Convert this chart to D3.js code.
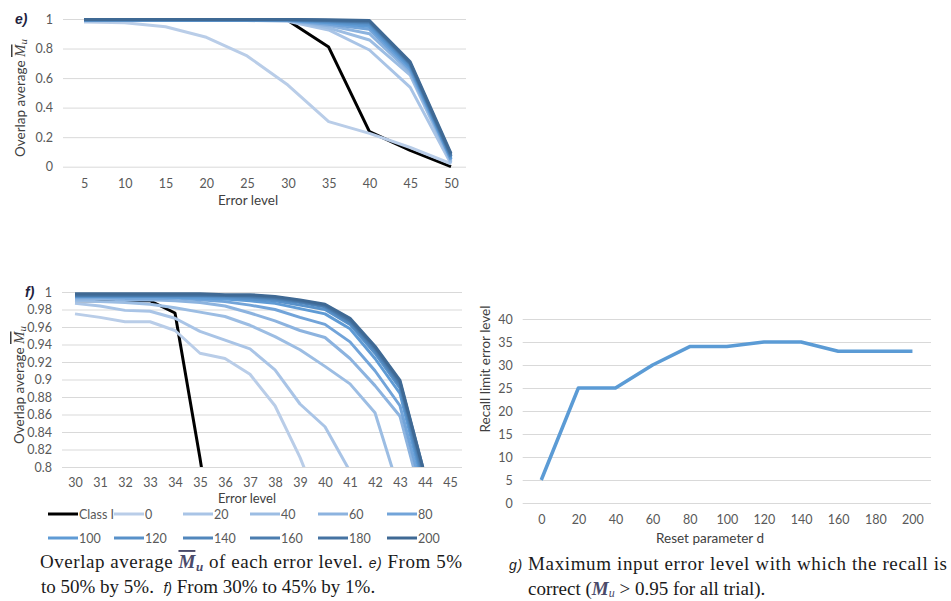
<!DOCTYPE html>
<html>
<head>
<meta charset="utf-8">
<script src="https://cdnjs.cloudflare.com/ajax/libs/d3/7.8.5/d3.min.js"></script>
<style>
  body { margin: 0; background: #fff; }
</style>
</head>
<body>
<div id="fig"></div>
<script>
// data
var seriesNames = ["Class I", "0", "20", "40", "60", "80", "100", "120", "140", "160", "180", "200"];
var seriesColors = ["#000000", "#b9cde8", "#a9c4e6", "#9cbde3", "#8cb3df", "#72a4d9", "#5f9bd5",
                    "#5891c9", "#5187bc", "#4b7daf", "#4573a2", "#3f6994"];

// panel e : error level 5..50
var errE = [5, 10, 15, 20, 25, 30, 35, 40, 45, 50];
var classI_e = [0.995, 0.995, 0.995, 0.995, 0.995, 0.99, 0.81, 0.237, 0.11, 0.0];
var d0_e   = [0.98, 0.975, 0.948, 0.876, 0.75, 0.553, 0.305, 0.226, 0.13, 0.02];
var d20_e  = [0.985, 0.99, 0.99, 0.99, 0.99, 0.985, 0.926, 0.79, 0.537, 0.02];
var d40_e  = [0.99, 0.99, 0.99, 0.99, 0.99, 0.99, 0.94, 0.858, 0.62, 0.03];
var d60_e  = [0.99, 0.99, 0.99, 0.99, 0.99, 0.99, 0.955, 0.90, 0.64, 0.04];
var d80_e  = [0.99, 0.99, 0.99, 0.99, 0.99, 0.99, 0.965, 0.93, 0.655, 0.05];
var d100_e = [0.993, 0.993, 0.993, 0.993, 0.993, 0.993, 0.975, 0.95, 0.67, 0.05];
var d120_e = [0.993, 0.993, 0.993, 0.993, 0.993, 0.993, 0.98, 0.965, 0.68, 0.06];
var d140_e = [0.995, 0.995, 0.995, 0.995, 0.995, 0.995, 0.985, 0.975, 0.69, 0.07];
var d160_e = [0.995, 0.995, 0.995, 0.995, 0.995, 0.995, 0.99, 0.98, 0.70, 0.07];
var d180_e = [0.996, 0.996, 0.996, 0.996, 0.996, 0.996, 0.99, 0.985, 0.70, 0.08];
var d200_e = [0.997, 0.997, 0.997, 0.997, 0.997, 0.997, 0.995, 0.99, 0.71, 0.09];

// panel f : error level 30..45
var errF = [30, 31, 32, 33, 34, 35, 36, 37, 38, 39, 40, 41, 42, 43, 44, 45];
var classI_f = [0.99, 0.99, 0.99, 0.99, 0.976, 0.81, 0.63, 0.52, 0.41, 0.31, 0.237, 0.2, 0.17, 0.14, 0.11, 0.08];
var d0_f   = [0.975, 0.971, 0.966, 0.966, 0.956, 0.930, 0.924, 0.906, 0.870, 0.811, 0.74, 0.65, 0.55, 0.45, 0.35, 0.3];
var d20_f  = [0.987, 0.984, 0.979, 0.978, 0.970, 0.955, 0.945, 0.935, 0.911, 0.872, 0.846, 0.795, 0.72, 0.65, 0.58, 0.54];
var d40_f  = [0.990, 0.989, 0.988, 0.986, 0.982, 0.977, 0.972, 0.962, 0.949, 0.934, 0.915, 0.895, 0.862, 0.77, 0.68, 0.62];
var d60_f  = [0.992, 0.992, 0.991, 0.991, 0.990, 0.988, 0.984, 0.976, 0.967, 0.956, 0.948, 0.924, 0.893, 0.858, 0.75, 0.64];
var d80_f  = [0.994, 0.994, 0.993, 0.993, 0.993, 0.991, 0.989, 0.985, 0.980, 0.971, 0.963, 0.943, 0.910, 0.870, 0.76, 0.66];
var d100_f = [0.995, 0.995, 0.995, 0.995, 0.994, 0.993, 0.992, 0.990, 0.987, 0.981, 0.975, 0.958, 0.924, 0.884, 0.77, 0.67];
var d120_f = [0.995, 0.995, 0.995, 0.995, 0.995, 0.995, 0.994, 0.992, 0.990, 0.985, 0.980, 0.963, 0.930, 0.890, 0.775, 0.68];
var d140_f = [0.996, 0.996, 0.996, 0.996, 0.996, 0.996, 0.995, 0.994, 0.992, 0.988, 0.983, 0.965, 0.933, 0.893, 0.78, 0.69];
var d160_f = [0.996, 0.996, 0.996, 0.996, 0.996, 0.996, 0.996, 0.995, 0.993, 0.989, 0.984, 0.967, 0.935, 0.895, 0.785, 0.70];
var d180_f = [0.997, 0.997, 0.997, 0.997, 0.997, 0.997, 0.996, 0.996, 0.994, 0.990, 0.985, 0.968, 0.937, 0.897, 0.79, 0.70];
var d200_f = [0.998, 0.998, 0.998, 0.998, 0.998, 0.998, 0.997, 0.997, 0.995, 0.991, 0.986, 0.970, 0.938, 0.899, 0.79, 0.71];

// panel g : recall limit vs reset parameter d
var resetD = [0, 20, 40, 60, 80, 100, 120, 140, 160, 180, 200];
var recallLimit = [5, 25, 25, 30, 34, 34, 35, 35, 33, 33, 33];

var seriesE = [classI_e, d0_e, d20_e, d40_e, d60_e, d80_e, d100_e, d120_e, d140_e, d160_e, d180_e, d200_e];
var seriesF = [classI_f, d0_f, d20_f, d40_f, d60_f, d80_f, d100_f, d120_f, d140_f, d160_f, d180_f, d200_f];

var width = 951, height = 601;
var gray = "#595959";
var serif = "Liberation Serif";
var sans = "Lato";

var svg = d3.select("#fig")
    .append("svg")
    .attr("width", width)
    .attr("height", height)
    .attr("font-family", sans);

// helper: horizontal gridlines + y labels
function yGrid(g, y, x0, x1, ticks, fmt) {
    g.append("g")
        .attr("transform", "translate(" + x0 + ",0)")
        .call(d3.axisLeft(y).tickValues(ticks).tickSize(-(x1 - x0)).tickPadding(10).tickFormat(fmt))
        .call(function(a) {
            a.select(".domain").remove();
            a.selectAll("line").attr("stroke", "#d9d9d9").attr("stroke-width", 1);
            a.selectAll("text").attr("fill", gray).attr("font-size", "12.5px").attr("font-family", sans);
        });
}
function xLabels(g, x, yPos, fmt) {
    g.append("g")
        .attr("transform", "translate(0," + yPos + ")")
        .call(d3.axisBottom(x).tickSize(0).tickPadding(0).tickFormat(fmt))
        .call(function(a) {
            a.select(".domain").remove();
            a.selectAll("text").attr("fill", gray).attr("font-size", "12.5px").attr("font-family", sans)
                .attr("dy", "0.35em");
        });
}
// rotated y title with overlined M_u
function yTitleMu(g, x, y) {
    var t = g.append("text")
        .attr("transform", "translate(" + x + "," + y + ") rotate(-90)")
        .attr("text-anchor", "middle")
        .attr("dominant-baseline", "central")
        .attr("font-size", "13.5px")
        .attr("fill", "#404040");
    t.append("tspan").text("Overlap average ");
    t.append("tspan").text("M")
        .attr("font-family", serif)
        .attr("font-style", "italic")
        .attr("font-size", "15px")
        .style("text-decoration", "overline");
    t.append("tspan").text("u")
        .attr("font-family", serif)
        .attr("font-style", "italic")
        .attr("font-size", "11px")
        .attr("dy", "3");
}

//
// Panel e
//
var xE = d3.scalePoint().domain(errE).range([84, 451]);
var yE = d3.scaleLinear().domain([0, 1]).range([166.7, 19]);
var g_e = svg.append("g");
yGrid(g_e, yE, 63, 466, [0, 0.2, 0.4, 0.6, 0.8, 1], function(d){ return d === 0 || d === 1 ? d : d.toFixed(1); });
xLabels(g_e, xE, 184, function(d){ return d; });

var lineE = d3.line()
    .x(function(d, i){ return xE(errE[i]); })
    .y(function(d){ return yE(d); });
g_e.selectAll("path.serie")
    .data(seriesE)
    .enter()
    .append("path")
    .attr("class", "serie")
    .attr("d", lineE)
    .attr("fill", "none")
    .attr("stroke", function(d, i){ return seriesColors[i]; })
    .attr("stroke-width", 3)
    .attr("stroke-linejoin", "round");

g_e.append("text")
    .text("Error level")
    .attr("x", 248)
    .attr("y", 200)
    .attr("text-anchor", "middle")
    .attr("dominant-baseline", "central")
    .attr("font-size", "13.5px")
    .attr("fill", "#404040");
yTitleMu(g_e, 20, 98);
g_e.append("text")
    .text("e)")
    .attr("x", 15)
    .attr("y", 19)
    .attr("dominant-baseline", "central")
    .attr("font-family", "Liberation Sans")
    .attr("font-style", "italic")
    .attr("font-weight", "bold")
    .attr("font-size", "14px")
    .attr("fill", "#1f1f3f");

//
// Panel f
//
var xF = d3.scalePoint().domain(errF).range([75, 450]);
var yF = d3.scaleLinear().domain([0.8, 1]).range([467, 292]);
var g_f = svg.append("g");
var ticksF = [0.8, 0.82, 0.84, 0.86, 0.88, 0.9, 0.92, 0.94, 0.96, 0.98, 1];
yGrid(g_f, yF, 62, 462, ticksF, function(d){ return d === 1 ? "1" : d3.format("")(+d.toFixed(2)); });
xLabels(g_f, xF, 483, function(d){ return d; });

svg.append("clipPath")
    .attr("id", "clipF")
    .append("rect")
    .attr("x", 62)
    .attr("y", 280)
    .attr("width", 400)
    .attr("height", yF(0.8) - 280);

var lineF = d3.line()
    .x(function(d, i){ return xF(errF[i]); })
    .y(function(d){ return yF(d); });
g_f.append("g")
    .attr("clip-path", "url(#clipF)")
    .selectAll("path.serie")
    .data(seriesF)
    .enter()
    .append("path")
    .attr("class", "serie")
    .attr("d", lineF)
    .attr("fill", "none")
    .attr("stroke", function(d, i){ return seriesColors[i]; })
    .attr("stroke-width", 3)
    .attr("stroke-linejoin", "round");

g_f.append("text")
    .text("Error level")
    .attr("x", 247)
    .attr("y", 498)
    .attr("text-anchor", "middle")
    .attr("dominant-baseline", "central")
    .attr("font-size", "13px")
    .attr("fill", "#404040");
yTitleMu(g_f, 19, 385);
g_f.append("text")
    .text("f)")
    .attr("x", 25)
    .attr("y", 292)
    .attr("dominant-baseline", "central")
    .attr("font-family", "Liberation Sans")
    .attr("font-style", "italic")
    .attr("font-weight", "bold")
    .attr("font-size", "14px")
    .attr("fill", "#1f1f3f");

// legend
var legCols = [48, 114, 183, 250, 318, 387];
var legend = g_f.selectAll("g.leg")
    .data(seriesNames)
    .enter()
    .append("g")
    .attr("class", "leg")
    .attr("transform", function(d, i){
        return "translate(" + legCols[i % 6] + "," + (i < 6 ? 514 : 538) + ")"; });
legend.append("line")
    .attr("x1", 0).attr("x2", 30)
    .attr("y1", 0).attr("y2", 0)
    .attr("stroke", function(d, i){ return seriesColors[i]; })
    .attr("stroke-width", 3);
legend.append("text")
    .text(function(d){ return d; })
    .attr("x", 31)
    .attr("y", 0)
    .attr("dominant-baseline", "central")
    .attr("font-size", "12.5px")
    .attr("fill", gray);

//
// Panel g
//
var xG = d3.scaleBand().domain(resetD).range([522.7, 931]);
var yG = d3.scaleLinear().domain([0, 40]).range([503, 319]);
var g_g = svg.append("g");
yGrid(g_g, yG, 522.7, 931, [0, 5, 10, 15, 20, 25, 30, 35, 40], function(d){ return d; });
xLabels(g_g, d3.scalePoint().domain(resetD).range([xG(0) + xG.bandwidth() / 2, xG(200) + xG.bandwidth() / 2]), 520, function(d){ return d; });

g_g.append("path")
    .datum(recallLimit)
    .attr("d", d3.line()
        .x(function(d, i){ return xG(resetD[i]) + xG.bandwidth() / 2; })
        .y(function(d){ return yG(d); }))
    .attr("fill", "none")
    .attr("stroke", "#5b9bd5")
    .attr("stroke-width", 3.5)
    .attr("stroke-linejoin", "round");

g_g.append("text")
    .text("Reset parameter d")
    .attr("x", 710)
    .attr("y", 538)
    .attr("text-anchor", "middle")
    .attr("dominant-baseline", "central")
    .attr("font-size", "13.5px")
    .attr("fill", "#404040");
g_g.append("text")
    .text("Recall limit error level")
    .attr("transform", "translate(485,369) rotate(-90)")
    .attr("text-anchor", "middle")
    .attr("dominant-baseline", "central")
    .attr("font-size", "13.5px")
    .attr("fill", "#404040");

//
// captions
//
var cap1 = svg.append("text")
    .attr("x", 40)
    .attr("y", 568)
    .attr("textLength", 422)
    .attr("lengthAdjust", "spacing")
    .attr("font-family", serif)
    .attr("font-size", "19px")
    .attr("fill", "#1a1a1a");
cap1.append("tspan").text("Overlap average ");
cap1.append("tspan").text("M")
    .attr("font-style", "italic")
    .attr("font-weight", "bold")
    .attr("fill", "#4a4a6a")
    .style("text-decoration", "overline");
cap1.append("tspan").text("u")
    .attr("font-style", "italic")
    .attr("font-weight", "bold")
    .attr("font-size", "13px")
    .attr("fill", "#4a4a6a")
    .attr("dy", "3");
cap1.append("tspan").text(" of each error level.  ").attr("dy", "-3");
cap1.append("tspan").text("e)")
    .attr("font-family", "Liberation Sans")
    .attr("font-style", "italic")
    .attr("font-size", "14px");
cap1.append("tspan").text("  From 5%");

var cap2 = svg.append("text")
    .attr("x", 41)
    .attr("y", 593)
    .attr("font-family", serif)
    .attr("font-size", "19px")
    .attr("fill", "#1a1a1a")
    .attr("xml:space", "preserve");
cap2.append("tspan").text("to 50% by 5%.  ");
cap2.append("tspan").text("f)")
    .attr("font-family", "Liberation Sans")
    .attr("font-style", "italic")
    .attr("font-size", "14px");
cap2.append("tspan").text(" From 30% to 45% by 1%.");

var cap3 = svg.append("text")
    .attr("x", 509)
    .attr("y", 570)
    .attr("textLength", 438)
    .attr("lengthAdjust", "spacing")
    .attr("font-family", serif)
    .attr("font-size", "19px")
    .attr("fill", "#1a1a1a");
cap3.append("tspan").text("g)")
    .attr("font-family", "Liberation Sans")
    .attr("font-style", "italic")
    .attr("font-size", "14px");
cap3.append("tspan").text(" Maximum input error level with which the recall is");

var cap4 = svg.append("text")
    .attr("x", 528)
    .attr("y", 595)
    .attr("font-family", serif)
    .attr("font-size", "19px")
    .attr("fill", "#1a1a1a");
cap4.append("tspan").text("correct (");
cap4.append("tspan").text("M")
    .attr("font-style", "italic")
    .attr("font-weight", "bold")
    .attr("fill", "#4a4a6a");
cap4.append("tspan").text("u")
    .attr("font-style", "italic")
    .attr("font-size", "12px")
    .attr("fill", "#4a4a6a")
    .attr("dy", "2");
cap4.append("tspan").text(" > 0.95 for all trial).").attr("dy", "-2");
</script>
</body>
</html>
